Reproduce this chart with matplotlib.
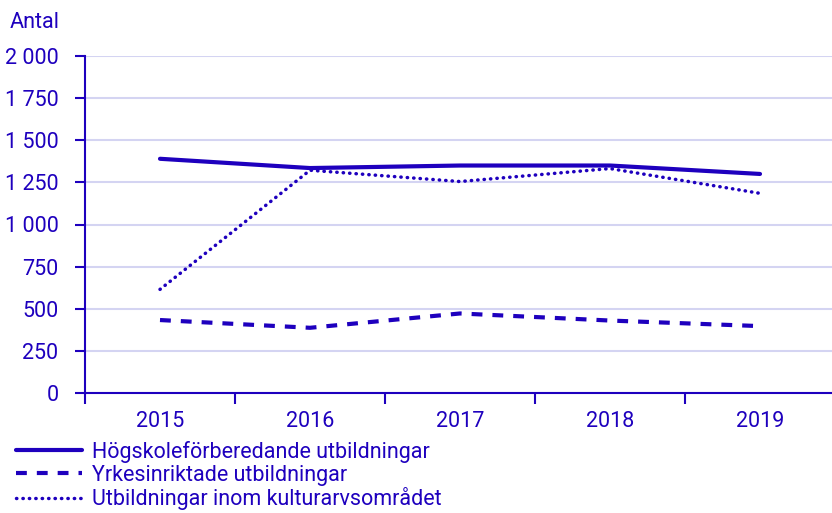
import matplotlib.pyplot as plt
from matplotlib.ticker import FuncFormatter

years = ["2015", "2016", "2017", "2018", "2019"]
hogskole = [1390, 1335, 1350, 1350, 1300]
yrkes = [433, 387, 472, 430, 397]
kulturarv = [615, 1322, 1255, 1332, 1185]

labels = ["Högskoleförberedande utbildningar",
          "Yrkesinriktade utbildningar",
          "Utbildningar inom kulturarvsområdet"]

blue = "#1e00be"
grid = "#d4d4f2"
fs = 15.5

plt.rcParams['font.family'] = ['Roboto', 'DejaVu Sans']

fig = plt.figure(figsize=(8.32, 5.13), dpi=100)
ax = fig.add_axes([85 / 832, 1 - 393 / 513, 750 / 832, 337 / 513])

x = range(len(years))
l1, = ax.plot(x, hogskole, color=blue, lw=3, solid_capstyle="round")
l2, = ax.plot(x, yrkes, color=blue, lw=3, ls=(0, (2.6, 2.4)))
l3, = ax.plot(x, kulturarv, color=blue, lw=2.5, ls=(0, (0.1, 1.75)),
              dash_capstyle="round")

ax.set_xlim(-0.5, 4.5)
ax.set_ylim(0, 2000)
ax.set_yticks(range(0, 2001, 250))
ax.yaxis.set_major_formatter(FuncFormatter(lambda v, p: f"{int(v):,}".replace(",", " ")))
ax.set_xticks(list(x))
ax.set_xticklabels(years)
ax.set_xticks([i - 0.5 for i in range(6)], minor=True)

ax.grid(axis="y", color=grid, lw=1.5)
ax.set_axisbelow(True)
for s in ["top", "right"]:
    ax.spines[s].set_visible(False)
for s in ["left", "bottom"]:
    ax.spines[s].set_color(blue)
    ax.spines[s].set_linewidth(1.5)

ax.tick_params(axis="y", colors=blue, labelsize=fs, length=7, width=1.5, pad=12)
ax.tick_params(axis="x", which="major", colors=blue, labelsize=fs, length=0, pad=13)
ax.tick_params(axis="x", which="minor", colors=blue, length=8, width=1.5)

fig.text(10 / 832, 1 - 22 / 513, "Antal", color=blue, fontsize=fs, va="center")

leg = fig.legend([l1, l2, l3], labels, loc="lower left",
                 bbox_to_anchor=(7 / 832, -6 / 513), frameon=False,
                 fontsize=fs, labelcolor=blue, handlelength=3.1,
                 handletextpad=0.45, labelspacing=0.08, borderaxespad=0)

fig.savefig("out.png", dpi=100)
